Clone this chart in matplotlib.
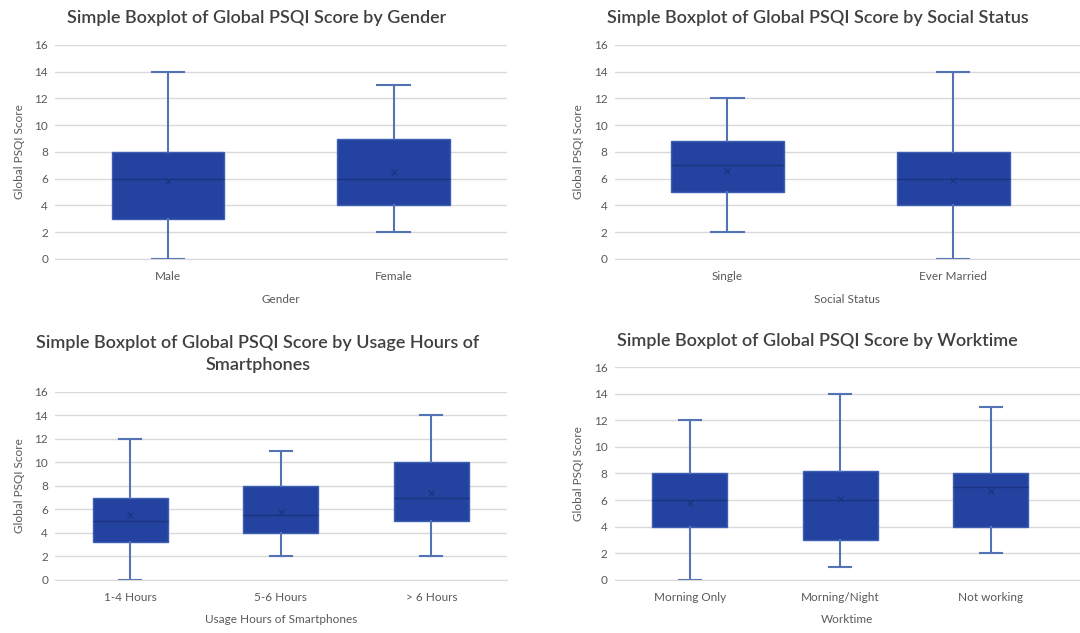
import matplotlib
matplotlib.use("Agg")
import matplotlib.pyplot as plt

plt.rcParams['font.family'] = ['Lato', 'DejaVu Sans']

# data: whisker low, Q1, median, Q3, whisker high, mean
gender_cats = ['Male', 'Female']
gender_lo = [0, 2]
gender_q1 = [3, 4]
gender_med = [6, 6]
gender_q3 = [8, 9]
gender_hi = [14, 13]
gender_mean = [5.8, 6.5]

social_cats = ['Single', 'Ever Married']
social_lo = [2, 0]
social_q1 = [5, 4]
social_med = [7, 6]
social_q3 = [8.8, 8]
social_hi = [12, 14]
social_mean = [6.6, 5.9]

usage_cats = ['1-4 Hours', '5-6 Hours', '> 6 Hours']
usage_lo = [0, 2, 2]
usage_q1 = [3.2, 4, 5]
usage_med = [5, 5.5, 7]
usage_q3 = [7, 8, 10]
usage_hi = [12, 11, 14]
usage_mean = [5.5, 5.8, 7.4]

work_cats = ['Morning Only', 'Morning/Night', 'Not working']
work_lo = [0, 1, 2]
work_q1 = [4, 3, 4]
work_med = [6, 6, 7]
work_q3 = [8, 8.2, 8]
work_hi = [12, 14, 13]
work_mean = [5.8, 6.1, 6.7]

y_ticks = [0, 2, 4, 6, 8, 10, 12, 14, 16]

FILL = '#2443a0'
EDGE = '#3d5fb3'
WHISK = '#5473b4'
MED = '#1a347f'
GRID = '#d9d9d9'
TXT = '#595959'
TTL = '#404040'


def make_stats(cats, lo, q1, med, q3, hi, mean):
    stats = []
    for i in range(len(cats)):
        stats.append(dict(label=cats[i], whislo=lo[i], q1=q1[i], med=med[i],
                          q3=q3[i], whishi=hi[i], mean=mean[i], fliers=[]))
    return stats


def draw(ax, cats, stats, xlabel, extra=0.0):
    n = len(cats)
    pos = list(range(n))
    ax.bxp(stats, positions=pos, widths=0.5, capwidths=0.145,
           patch_artist=True, showmeans=True, showfliers=False,
           boxprops=dict(facecolor=FILL, edgecolor=EDGE, linewidth=1),
           whiskerprops=dict(color=WHISK, linewidth=1.5),
           capprops=dict(color=WHISK, linewidth=1.5),
           medianprops=dict(color=MED, linewidth=1),
           meanprops=dict(marker='x', markeredgecolor=MED, markersize=5,
                          markeredgewidth=0.9))
    ax.set_xlim(-0.5, n - 0.5 + extra)
    ax.set_ylim(0, 16)
    ax.set_yticks(y_ticks)
    ax.set_xticks(pos)
    ax.set_xticklabels(cats)
    ax.yaxis.grid(True, color=GRID, linewidth=1)
    ax.set_axisbelow(True)
    for s in ['top', 'right', 'left']:
        ax.spines[s].set_visible(False)
    ax.spines['bottom'].set_color(GRID)
    ax.tick_params(axis='x', length=0, pad=9, labelsize=8.5, labelcolor=TXT)
    ax.tick_params(axis='y', length=0, pad=5, labelsize=8.5, labelcolor=TXT)
    ax.set_ylabel('Global PSQI Score', fontsize=8.5, color=TXT, labelpad=7)
    ax.set_xlabel(xlabel, fontsize=8.5, color=TXT, labelpad=8)


fig = plt.figure(figsize=(10.8, 6.33), dpi=100)

ax1 = fig.add_axes([0.051, 0.591, 0.418, 0.338])
ax2 = fig.add_axes([0.569, 0.591, 0.431, 0.338])
ax3 = fig.add_axes([0.051, 0.084, 0.418, 0.297])
ax4 = fig.add_axes([0.569, 0.084, 0.431, 0.336])

draw(ax1, gender_cats,
     make_stats(gender_cats, gender_lo, gender_q1, gender_med, gender_q3, gender_hi, gender_mean),
     'Gender')
draw(ax2, social_cats,
     make_stats(social_cats, social_lo, social_q1, social_med, social_q3, social_hi, social_mean),
     'Social Status', extra=0.062)
draw(ax3, usage_cats,
     make_stats(usage_cats, usage_lo, usage_q1, usage_med, usage_q3, usage_hi, usage_mean),
     'Usage Hours of Smartphones')
draw(ax4, work_cats,
     make_stats(work_cats, work_lo, work_q1, work_med, work_q3, work_hi, work_mean),
     'Worktime', extra=0.093)

# titles
title_kw = dict(ha='center', va='center', fontsize=13, color=TTL, fontweight='semibold')
fig.text(0.238, 1 - 18 / 633, 'Simple Boxplot of Global PSQI Score by Gender', **title_kw)
fig.text(0.757, 1 - 18 / 633, 'Simple Boxplot of Global PSQI Score by Social Status', **title_kw)
fig.text(0.239, 1 - 354 / 633,
         'Simple Boxplot of Global PSQI Score by Usage Hours of\nSmartphones',
         linespacing=1.4, **title_kw)
fig.text(0.757, 1 - 341 / 633, 'Simple Boxplot of Global PSQI Score by Worktime', **title_kw)

fig.savefig('out.png', dpi=100)
